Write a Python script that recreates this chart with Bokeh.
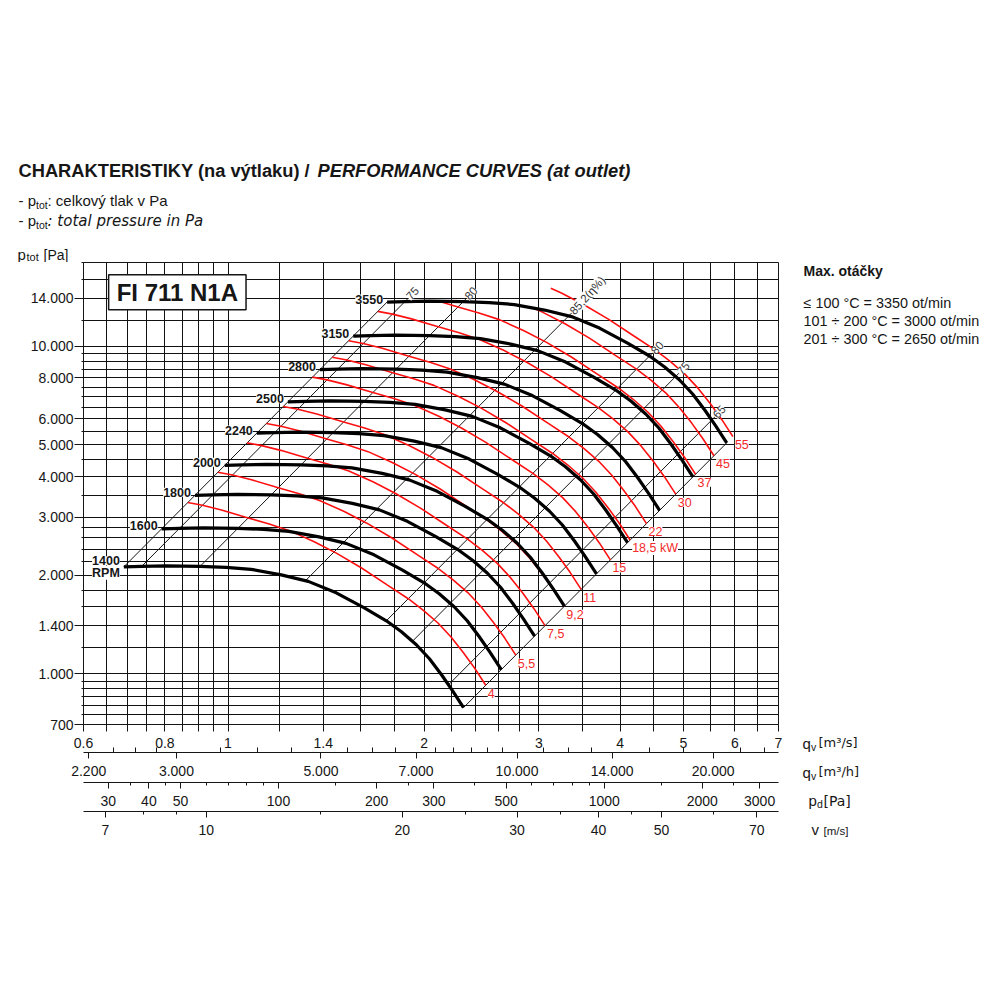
import numpy as np
from bokeh.plotting import figure
from bokeh.layouts import column, row
from bokeh.models import Range1d, LogScale, LogAxis, FixedTicker
from bokeh.embed import file_html
from bokeh.resources import INLINE
from bokeh.core.properties import value

# ---------------- values ----------------
SPEEDS_RPM = [1400, 1600, 1800, 2000, 2240, 2500, 2800, 3150, 3550]
SPEED_LABELS = ["1400", "1600", "1800", "2000", "2240", "2500", "2800", "3150", "3550"]

# fan characteristic at 1400 RPM (qv m3/s, ptot Pa); other speeds follow the fan affinity laws
BASE_QV = [0.692, 0.737, 0.803, 0.906, 0.993, 1.085, 1.207, 1.328, 1.466, 1.619,
           1.750, 1.846, 1.946, 2.038, 2.127, 2.211, 2.299]
BASE_PTOT = [2120, 2127, 2135, 2127, 2112, 2083, 2004, 1914, 1766, 1589,
             1451, 1343, 1226, 1111, 993, 888, 788]
# shaft power along the 1400 RPM characteristic (kW)
BASE_KW = [2.03, 2.10, 2.22, 2.40, 2.53, 2.66, 2.82, 2.97, 3.07, 3.14,
           3.17, 3.18, 3.18, 3.18, 3.17, 3.16, 3.16]

# efficiency parabolas: their point on the 1400 RPM curve
EFF_QV = [0.692, 0.737, 0.906, 1.314, 1.750, 1.919, 2.180, 2.299]
EFF_PTOT = [2120, 2127, 2127, 1920, 1451, 1256, 925, 788]
EFF_LABELS = ["", "75", "80", "85,2(η%)", "80", "75", "65", ""]

POWER_KW = [4, 5.5, 7.5, 9.2, 11, 15, 18.5, 22, 30, 37, 45, 55]
POWER_LABELS = ["4", "5,5", "7,5", "9,2", "11", "15", "18,5 kW", "22", "30", "37", "45", "55"]
POWER_MAX_RPM = [3550, 3550, 3550, 3550, 3550, 3550, 3550, 3550, 3550, 3550, 3550, 3800]

QV_GRID = [0.6, 0.65, 0.7, 0.75, 0.8, 0.85, 0.9, 0.95, 1.0, 1.2, 1.4, 1.6, 1.8, 2.0,
           2.2, 2.4, 2.6, 2.8, 3.0, 3.5, 4.0, 4.5, 5.0, 5.5, 6.0, 6.5, 7.0]
QV_TICKS = [0.6, 0.8, 1.0, 1.4, 2.0, 3.0, 4.0, 5.0, 6.0, 7.0]
QV_TICK_LABELS = ["0.6", "0.8", "1", "1.4", "2", "3", "4", "5", "6", "7"]

P_GRID = [700, 750, 800, 850, 900, 950, 1000, 1200, 1400, 1600, 1800, 2000, 2200, 2400,
          2600, 2800, 3000, 3500, 4000, 4500, 5000, 5500, 6000, 6500, 7000, 7500, 8000,
          8500, 9000, 9500, 10000, 12000, 14000, 16000, 18000]
P_TICKS = [700, 1000, 1400, 2000, 3000, 4000, 5000, 6000, 8000, 10000, 14000]
P_TICK_LABELS = ["700", "1.000", "1.400", "2.000", "3.000", "4.000", "5.000", "6.000",
                 "8.000", "10.000", "14.000"]

QH_TICKS = [2200, 3000, 5000, 7000, 10000, 14000, 20000]
QH_TICK_LABELS = ["2.200", "3.000", "5.000", "7.000", "10.000", "14.000", "20.000"]
QH_MINOR = [2400, 2600, 2800, 3500, 4000, 4500, 5500, 6000, 6500, 7500, 8000, 8500, 9000,
            9500, 11000, 12000, 13000, 16000, 18000, 22000, 24000]
PD_TICKS = [30, 40, 50, 100, 200, 300, 500, 1000, 2000, 3000]
PD_TICK_LABELS = ["30", "40", "50", "100", "200", "300", "500", "1000", "2000", "3000"]
PD_MINOR = [35, 45, 60, 70, 80, 90, 150, 250, 400, 600, 700, 800, 900, 1500, 2500]
V_TICKS = [7, 10, 20, 30, 40, 50, 70]
V_TICK_LABELS = ["7", "10", "20", "30", "40", "50", "70"]
V_MINOR = [8, 9, 15, 25, 35, 45, 60]

OUTLET_AREA = 0.0926   # m2
AIR_DENSITY = 1.2      # kg/m3

# ---------------- layout constants ----------------
W = 984
TOP_H = 262            # header height (frame top on the page)
MAIN_W = 788
MAIN_H = 588
FONT = "Liberation Sans"
FONT2 = "DejaVu Sans"
INK = "#161616"
RED = "#ff1010"
RED_TXT = "#f42a2a"


def unalign(f):
    if "frame_align" in f.properties():
        f.frame_align = False


def blank_fig(width, height, x0, x1, y0, y1):
    f = figure(frame_width=width, frame_height=height, x_range=Range1d(x0, x1),
               y_range=Range1d(y0, y1), output_backend="svg", toolbar_location=None,
               title=None, x_axis_location=None, y_axis_location=None,
               min_border_left=0, min_border_right=0, min_border_top=0, min_border_bottom=0)
    f.outline_line_color = None
    f.grid.grid_line_color = None
    f.background_fill_color = "white"
    f.border_fill_color = "white"
    unalign(f)
    return f


def put(f, X, Y, text, size="15px", style="normal", align="left", color=INK, font=FONT):
    f.text(x=[X], y=[Y], text=[text], text_font=value(font), text_font_size=size,
           text_font_style=style, text_align=align, text_baseline="middle", text_color=color)


# ---------------- header (page coordinates, y downwards) ----------------
head = blank_fig(W, TOP_H, 0, W, TOP_H, 0)
put(head, 18, 170, "CHARAKTERISTIKY (na výtlaku) /", "18.3px", "bold")
put(head, 317, 170, "PERFORMANCE CURVES (at outlet)", "18.3px", "bold italic")
put(head, 18, 200, "- p", "15px")
put(head, 35.5, 204, "tot", "10.5px")
put(head, 47, 200, ": celkový tlak v Pa", "15px")
put(head, 18, 220, "- p", "15px")
put(head, 35.5, 224, "tot", "10.5px")
put(head, 47, 220, ": total pressure in Pa", "15px", "italic", font=FONT2)
put(head, 17, 254, "p", "15px")
put(head, 26, 256, "tot", "11px")
put(head, 43, 254, "[Pa]", "14px")

# ---------------- side panel (right of the chart) ----------------
side = blank_fig(W - MAIN_W, MAIN_H, MAIN_W, W, TOP_H + MAIN_H, TOP_H)
put(side, 803, 270, "Max. otáčky", "14px", "bold")
put(side, 803, 302, "≤ 100 °C = 3350 ot/min", "14.4px")
put(side, 803, 320, "101 ÷ 200 °C = 3000 ot/min", "14.4px")
put(side, 803, 338, "201 ÷ 300 °C = 2650 ot/min", "14.4px")
put(side, 802, 743, "q", "15px")
put(side, 810.5, 746, "v", "10.5px")
put(side, 818, 742, "[m³/s]", "13px", font=FONT2)
put(side, 802, 772, "q", "15px")
put(side, 810.5, 775, "v", "10.5px")
put(side, 818, 771, "[m³/h]", "13px", font=FONT2)
put(side, 808, 800, "p", "15px")
put(side, 816.5, 803, "d", "10.5px")
put(side, 823, 800, "[Pa]", "14px", font=FONT2)
put(side, 811, 829, "v", "15px")
put(side, 823, 830, "[m/s]", "11.5px")

# ---------------- main chart ----------------
QMIN, QMAX = 0.6, 7.0
p = figure(frame_width=695, frame_height=462, x_axis_type="log", y_axis_type="log",
           x_range=Range1d(QMIN, QMAX), y_range=Range1d(700, 18000),
           output_backend="svg", toolbar_location=None, title=None,
           min_border_left=83, min_border_right=MAIN_W - 83 - 695,
           min_border_top=0, min_border_bottom=MAIN_H - 462)
unalign(p)
p.background_fill_color = "white"
p.border_fill_color = "white"
p.outline_line_color = INK

p.xgrid.ticker = FixedTicker(ticks=QV_GRID)
p.ygrid.ticker = FixedTicker(ticks=P_GRID)
for g in (p.xgrid, p.ygrid):
    g.grid_line_color = "#111111"
    g.grid_line_width = 1


def style_axis(ax, ticks, labels, minor, maj_out, maj_in, min_out, min_in, standoff, pad=None):
    ax.ticker = FixedTicker(ticks=ticks, minor_ticks=minor)
    ax.major_label_overrides = dict(zip(ticks, labels))
    ax.major_tick_out = maj_out
    ax.major_tick_in = maj_in
    ax.minor_tick_out = min_out
    ax.minor_tick_in = min_in
    ax.major_label_standoff = standoff
    ax.major_label_text_font = FONT
    ax.major_label_text_font_size = "14px"
    ax.major_label_text_color = INK
    ax.axis_line_color = INK
    ax.major_tick_line_color = INK
    ax.minor_tick_line_color = INK
    if pad is not None:
        # invisible spacer so that the stacked scales keep the reference spacing
        ax.axis_label = " "
        ax.axis_label_text_font_size = "2px"
        ax.axis_label_standoff = pad


style_axis(p.yaxis[0], P_TICKS, P_TICK_LABELS, [v for v in P_GRID if v not in P_TICKS],
           9, 0, 2, 0, 1)
style_axis(p.xaxis[0], QV_TICKS, QV_TICK_LABELS, [v for v in QV_GRID if v not in QV_TICKS],
           7, 0, 7, 0, 6, pad=-3)

p.extra_x_ranges = {
    "qh": Range1d(QMIN * 3600, QMAX * 3600),
    "pd": Range1d(0.5 * AIR_DENSITY * (QMIN / OUTLET_AREA) ** 2,
                  0.5 * AIR_DENSITY * (QMAX / OUTLET_AREA) ** 2),
    "v": Range1d(QMIN / OUTLET_AREA, QMAX / OUTLET_AREA),
}
p.extra_x_scales = {"qh": LogScale(), "pd": LogScale(), "v": LogScale()}

ax_qh = LogAxis(x_range_name="qh")
style_axis(ax_qh, QH_TICKS, QH_TICK_LABELS, QH_MINOR, 6, 0, 0, 5, 7, pad=-1)
p.add_layout(ax_qh, "below")
ax_pd = LogAxis(x_range_name="pd")
style_axis(ax_pd, PD_TICKS, PD_TICK_LABELS, PD_MINOR, 6, 0, 3, 0, 7, pad=-2)
p.add_layout(ax_pd, "below")
ax_v = LogAxis(x_range_name="v")
style_axis(ax_v, V_TICKS, V_TICK_LABELS, V_MINOR, 6, 0, 3, 0, 7)
p.add_layout(ax_v, "below")

bq = np.array(BASE_QV, dtype=float)
bp = np.array(BASE_PTOT, dtype=float)
bk = np.array(BASE_KW, dtype=float)
N0 = SPEEDS_RPM[0]
NTOP = SPEEDS_RPM[-1]

# ---- efficiency parabolas (diagonals) ----
k_top = NTOP / N0
for q, pp, t in zip(EFF_QV, EFF_PTOT, EFF_LABELS):
    kt = k_top * (1.012 if t else 1.0)
    p.line([q, q * kt], [pp, pp * kt ** 2], line_color=INK, line_width=1)

# ---- power lines ----
lq, lp, lk = np.log(bq), np.log(bp), np.log(bk)
pw_end_x, pw_end_y = [], []
for P, nmax in zip(POWER_KW, POWER_MAX_RPM):
    n = N0 * (P / bk) ** (1.0 / 3.0)
    keep = n <= nmax
    i0 = int(np.argmax(keep))
    xs = list(bq[keep] * n[keep] / N0)
    ys = list(bp[keep] * (n[keep] / N0) ** 2)
    if i0 > 0:
        target = np.log(P * (N0 / nmax) ** 3)
        f = (target - lk[i0 - 1]) / (lk[i0] - lk[i0 - 1])
        q = np.exp(lq[i0 - 1] + f * (lq[i0] - lq[i0 - 1]))
        pp = np.exp(lp[i0 - 1] + f * (lp[i0] - lp[i0 - 1]))
        kk = nmax / N0
        xs.insert(0, q * kk)
        ys.insert(0, pp * kk ** 2)
    p.line(xs, ys, line_color=RED, line_width=1.6)
    pw_end_x.append(xs[-1])
    pw_end_y.append(ys[-1])

# ---- fan curves ----
for n in SPEEDS_RPM:
    kk = n / N0
    p.line(bq * kk, bp * kk ** 2, line_color="black", line_width=3.2, line_join="round")

# ---- labels on the chart ----
lx, ly, lt, ldy = [], [], [], []
for n, t in zip(SPEEDS_RPM, SPEED_LABELS):
    kk = n / N0
    if n == N0:
        lx += [bq[0] * kk, bq[0] * kk]
        ly += [bp[0] * kk ** 2, bp[0] * kk ** 2]
        lt += [t, "RPM"]
        ldy += [-6, 6]
    else:
        lx.append(bq[0] * kk)
        ly.append(bp[0] * kk ** 2)
        lt.append(t)
        ldy.append(-3)
p.text(x=lx, y=ly, text=lt, x_offset=-4, y_offset=ldy, text_align="right",
       text_baseline="middle", text_font=value(FONT), text_font_style="bold",
       text_font_size="12.5px", text_color=INK, background_fill_color="white")

ex, ey, et = [], [], []
kl = k_top * 1.012
for q, pp, t in zip(EFF_QV, EFF_PTOT, EFF_LABELS):
    if t:
        ex.append(q * kl)
        ey.append(pp * kl ** 2)
        et.append(t)
p.text(x=ex, y=ey, text=et, angle=0.84, text_align="left", text_baseline="middle",
       text_font=value(FONT), text_font_size="11.5px", text_color="#333333",
       background_fill_color="white")

p.text(x=pw_end_x, y=pw_end_y, text=POWER_LABELS, x_offset=2, y_offset=8,
       text_align="left", text_baseline="middle", text_font=value(FONT),
       text_font_size="12.5px", text_color=RED_TXT, background_fill_color="white")

# model designation box (top-left of the chart)
p.text(x=[0.836], y=[14600], text=["FI 711 N1A"], text_align="center", text_baseline="middle",
       text_font=value(FONT), text_font_size="24px", text_font_style="bold", text_color=INK,
       background_fill_color="white", border_line_color=INK, border_line_width=1.5,
       padding=(8, 4))

layout = column(head, row(p, side))
open("out.html", "w").write(file_html(layout, INLINE))
